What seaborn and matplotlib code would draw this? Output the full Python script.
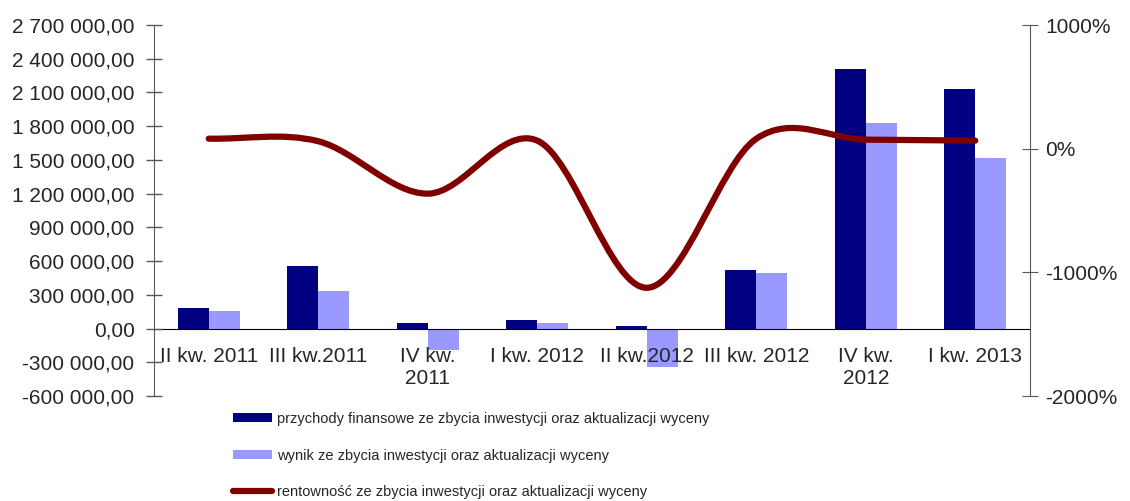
import numpy as np
import pandas as pd
import seaborn as sns
import matplotlib.pyplot as plt
from matplotlib.path import Path
from matplotlib.patches import PathPatch, Patch
from matplotlib.lines import Line2D
from matplotlib.ticker import FixedLocator, FuncFormatter


# dane
kwartaly = ["II kw. 2011", "III kw.2011", "IV kw.\n2011", "I kw. 2012",
            "II kw.2012", "III kw. 2012", "IV kw.\n2012", "I kw. 2013"]
przychody = [187000, 560000, 53000, 80000, 27000, 525000, 2313000, 2135000]
wynik = [160000, 330000, -187000, 45000, -338000, 498000, 1824000, 1521000]
rentownosc = [81, 60, -364, 65, -1125, 80, 73, 65]

lab_przych = "przychody finansowe ze zbycia inwestycji oraz aktualizacji wyceny"
lab_wynik = "wynik ze zbycia inwestycji oraz aktualizacji wyceny"
lab_rent = "rentowność ze zbycia inwestycji oraz aktualizacji wyceny"

c_dark = "#000080"
c_light = "#9999FF"
c_line = "#800000"

sns.set_style("white")
plt.rcParams["font.family"] = ["Liberation Sans", "DejaVu Sans"]

df = pd.DataFrame({
    "kwartal": kwartaly * 2,
    "wartosc": przychody + wynik,
    "seria": [lab_przych] * len(kwartaly) + [lab_wynik] * len(kwartaly),
})

fig = plt.figure(figsize=(11.3, 5.01), dpi=100)
ax = fig.add_axes([154 / 1130, 1 - 396 / 501, (1030 - 154) / 1130, (396 - 25) / 501])

sns.barplot(data=df, x="kwartal", y="wartosc", hue="seria",
            palette=[c_dark, c_light], saturation=1, width=0.57, linewidth=0,
            legend=False, ax=ax, order=kwartaly)

ax.set_axisbelow(False)
ax.set_xlim(-0.5, len(kwartaly) - 0.5)
ax.set_ylim(-600000, 2700000)
ax.set_xlabel("")
ax.set_ylabel("")

def fmt_pln(v, pos):
    s = f"{v:,.2f}"
    return s.replace(",", " ").replace(".", ",")

ax.yaxis.set_major_locator(FixedLocator(np.arange(-600000, 2700001, 300000)))
ax.yaxis.set_major_formatter(FuncFormatter(fmt_pln))
ax.tick_params(axis="y", direction="inout", length=12, width=1, color="#595959",
               labelsize=15, pad=8)

# os kategorii przechodzi przez zero
ax.spines["bottom"].set_position(("data", 0))
ax.spines["bottom"].set_color("black")
ax.spines["left"].set_color("#595959")
ax.spines["top"].set_visible(False)
ax.spines["right"].set_visible(False)
ax.set_xticks(range(len(kwartaly)))
ax.set_xticklabels(kwartaly)
ax.set_xticks(np.arange(0.5, len(kwartaly) - 1, 1), minor=True)
ax.tick_params(axis="x", which="major", length=0, labelsize=15, pad=13)
ax.tick_params(axis="x", which="minor", direction="inout", length=12, color="#404040")
for t in ax.get_xticklabels():
    t.set_linespacing(1.2)

# druga os - rentownosc (%)
ax2 = ax.twinx()
ax2.set_ylim(-2000, 1000)
ax2.yaxis.set_major_locator(FixedLocator([-2000, -1000, 0, 1000]))
ax2.yaxis.set_major_formatter(FuncFormatter(lambda v, p: f"{int(v)}%"))
ax2.tick_params(axis="y", direction="inout", length=12, color="#595959",
                labelsize=15, pad=5)
for s in ["top", "bottom", "left"]:
    ax2.spines[s].set_visible(False)
ax2.spines["right"].set_color("#595959")

# wygladzona linia (krzywe Beziera przez punkty danych)
y = np.array(rentownosc, dtype=float)
n = len(y)
m = np.zeros(n)
m[0] = y[1] - y[0]
m[-1] = y[-1] - y[-2]
m[1:-1] = (y[2:] - y[:-2]) / 2
verts = [(0, y[0])]
codes = [Path.MOVETO]
for i in range(n - 1):
    verts += [(i + 1 / 3, y[i] + m[i] / 3),
              (i + 1 - 1 / 3, y[i + 1] - m[i + 1] / 3),
              (i + 1, y[i + 1])]
    codes += [Path.CURVE4] * 3
ax2.add_patch(PathPatch(Path(verts, codes), fill=False, edgecolor=c_line,
                        lw=4.5, capstyle="round", joinstyle="round"))

handles = [Patch(facecolor=c_dark, edgecolor="none"),
           Patch(facecolor=c_light, edgecolor="none"),
           Line2D([], [], color=c_line, lw=4.5, solid_capstyle="round")]
fig.legend(handles, [lab_przych, lab_wynik, lab_rent], loc="upper left",
           bbox_to_anchor=(233 / 1130, 1 - 412 / 501), frameon=False,
           prop={"size": 10.5},
           handlelength=2.7, handleheight=0.55, handletextpad=0.3,
           labelspacing=1.55, borderpad=0, borderaxespad=0)

fig.savefig("out.png", dpi=100)
